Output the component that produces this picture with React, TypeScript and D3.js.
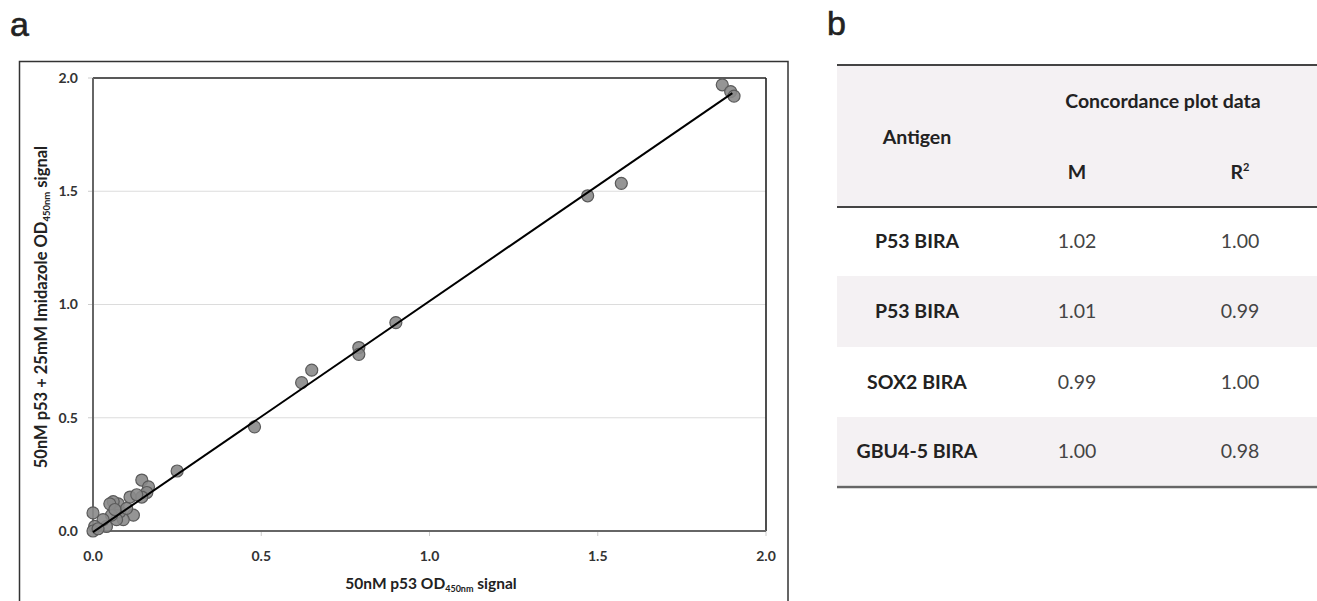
import React from "react";
import * as d3 from "d3";

const pointsX = [1.87, 1.895, 1.905, 1.47, 1.57, 0.9, 0.79, 0.79, 0.65, 0.62, 0.48, 0.25, 0.145, 0.165, 0.16, 0.145, 0.11, 0.12, 0.09, 0.08, 0.075, 0.07, 0.06, 0.055, 0.05, 0.04, 0.03, 0.005, 0.0, 0.0, 0.015, 0.1, 0.13, 0.065];
const pointsY = [1.97, 1.94, 1.92, 1.48, 1.535, 0.92, 0.81, 0.78, 0.71, 0.655, 0.46, 0.265, 0.225, 0.195, 0.17, 0.15, 0.15, 0.07, 0.05, 0.085, 0.12, 0.05, 0.13, 0.07, 0.12, 0.02, 0.05, 0.02, 0.08, 0.0, 0.01, 0.1, 0.16, 0.095];
const fitSlope = 1.02;
const fitIntercept = -0.005;
const fitRange = [0, 1.9];
const xTicks = [0, 0.5, 1.0, 1.5, 2.0];
const yTicks = [0, 0.5, 1.0, 1.5, 2.0];

const antigens = ["P53 BIRA", "P53 BIRA", "SOX2 BIRA", "GBU4-5 BIRA"];
const mValues = ["1.02", "1.01", "0.99", "1.00"];
const r2Values = ["1.00", "0.99", "1.00", "0.98"];

const FONT = "Lato, 'Open Sans', sans-serif";

export default function App() {
  const x = d3.scaleLinear().domain([0, 2]).range([93, 766]);
  const y = d3.scaleLinear().domain([0, 2]).range([531, 78]);
  const line = d3.line<number>().x((d) => x(d)).y((d) => y(fitSlope * d + fitIntercept));

  const rowTops = [207, 276, 347, 417];
  const rowBottoms = [276, 347, 417, 485];
  const colAntigen = 917;
  const colM = 1077;
  const colR = 1240;
  const tf = 19.5;

  return (
    <svg width={1317} height={601} style={{ position: "absolute", left: 0, top: 0, background: "#fff" }}>
      {/* panel labels */}
      <text x={10} y={36} fontFamily="'Liberation Sans', Arial, sans-serif" fontSize={34} fill="#222" stroke="#222" strokeWidth={0.6}>a</text>
      <text x={827} y={35} fontFamily="'Liberation Sans', Arial, sans-serif" fontSize={34} fill="#222" stroke="#222" strokeWidth={0.6}>b</text>

      {/* outer frame */}
      <rect x={19.5} y={61.5} width={768.5} height={560} fill="none" stroke="#333" strokeWidth={1.5} />

      {/* gridlines */}
      {yTicks.filter((t) => t > 0 && t < 2).map((t) => (
        <line key={"g" + t} x1={x(0)} x2={x(2)} y1={y(t)} y2={y(t)} stroke="#dcdcdc" strokeWidth={1.2} />
      ))}
      {/* tick marks */}
      {yTicks.map((t) => (
        <line key={"yt" + t} x1={x(0) - 5} x2={x(0)} y1={y(t)} y2={y(t)} stroke="#ccc" strokeWidth={1} />
      ))}
      {xTicks.map((t) => (
        <line key={"xt" + t} x1={x(t)} x2={x(t)} y1={y(0)} y2={y(0) + 5} stroke="#ccc" strokeWidth={1} />
      ))}
      {/* plot frame */}
      <line x1={x(0)} x2={x(2)} y1={y(2)} y2={y(2)} stroke="#222" strokeWidth={1.6} />
      <line x1={x(2)} x2={x(2)} y1={y(2)} y2={y(0)} stroke="#222" strokeWidth={1.6} />
      <line x1={x(0)} x2={x(0)} y1={y(2)} y2={y(0)} stroke="#666" strokeWidth={2} />
      <line x1={x(0)} x2={x(2)} y1={y(0)} y2={y(0)} stroke="#666" strokeWidth={2} />

      {/* points */}
      {pointsX.map((px, i) => (
        <circle key={"p" + i} cx={x(px)} cy={y(pointsY[i])} r={6} fill="#8a8a8a" stroke="#5a5a5a" strokeWidth={1.2} fillOpacity={0.9} />
      ))}
      {/* fit line */}
      <path d={line(fitRange) || ""} fill="none" stroke="#000" strokeWidth={2} />

      {/* tick labels */}
      {yTicks.map((t) => (
        <text key={"yl" + t} x={78} y={y(t)} dy="0.35em" textAnchor="end" fontFamily={FONT} fontWeight={700} fontSize={14} fill="#333">
          {d3.format(".1f")(t)}
        </text>
      ))}
      {xTicks.map((t) => (
        <text key={"xl" + t} x={x(t)} y={556} dy="0.35em" textAnchor="middle" fontFamily={FONT} fontWeight={700} fontSize={14} fill="#333">
          {d3.format(".1f")(t)}
        </text>
      ))}

      {/* axis titles */}
      <text x={431} y={589} textAnchor="middle" fontFamily={FONT} fontWeight={700} fontSize={15.5} fill="#222">
        50nM p53 OD<tspan fontSize={9} dy={3}>450nm</tspan><tspan dy={-3}> signal</tspan>
      </text>
      <text transform="translate(47,307) rotate(-90)" textAnchor="middle" fontFamily={FONT} fontWeight={700} fontSize={16.5} fill="#222">
        50nM  p53 + 25mM Imidazole OD<tspan fontSize={9.5} dy={3}>450nm</tspan><tspan dy={-3}> signal</tspan>
      </text>

      {/* table */}
      <rect x={837} y={65} width={480} height={142} fill="#f4f1f3" />
      {rowTops.map((t, i) => (
        i % 2 === 1 ? <rect key={"rb" + i} x={837} y={t} width={480} height={rowBottoms[i] - t} fill="#f4f1f3" /> : null
      ))}
      <line x1={837} x2={1317} y1={65} y2={65} stroke="#444" strokeWidth={2} />
      <line x1={837} x2={1317} y1={207} y2={207} stroke="#444" strokeWidth={2} />
      <line x1={837} x2={1317} y1={487} y2={487} stroke="#666" strokeWidth={2.5} />

      <text x={colAntigen} y={137} dy="0.35em" textAnchor="middle" fontFamily={FONT} fontWeight={700} fontSize={tf} fill="#222">Antigen</text>
      <text x={1163} y={101} dy="0.35em" textAnchor="middle" fontFamily={FONT} fontWeight={700} fontSize={tf} fill="#222">Concordance plot data</text>
      <text x={colM} y={172} dy="0.35em" textAnchor="middle" fontFamily={FONT} fontWeight={700} fontSize={tf} fill="#222">M</text>
      <text x={colR} y={172} dy="0.35em" textAnchor="middle" fontFamily={FONT} fontWeight={700} fontSize={tf} fill="#222">
        R<tspan fontSize={11} dy={-8}>2</tspan>
      </text>

      {antigens.map((a, i) => {
        const cy = (rowTops[i] + rowBottoms[i]) / 2;
        return (
          <g key={"row" + i}>
            <text x={colAntigen} y={cy} dy="0.35em" textAnchor="middle" fontFamily={FONT} fontWeight={700} fontSize={tf} fill="#222">{a}</text>
            <text x={colM} y={cy} dy="0.35em" textAnchor="middle" fontFamily={FONT} fontSize={tf} fill="#444">{mValues[i]}</text>
            <text x={colR} y={cy} dy="0.35em" textAnchor="middle" fontFamily={FONT} fontSize={tf} fill="#444">{r2Values[i]}</text>
          </g>
        );
      })}
    </svg>
  );
}
